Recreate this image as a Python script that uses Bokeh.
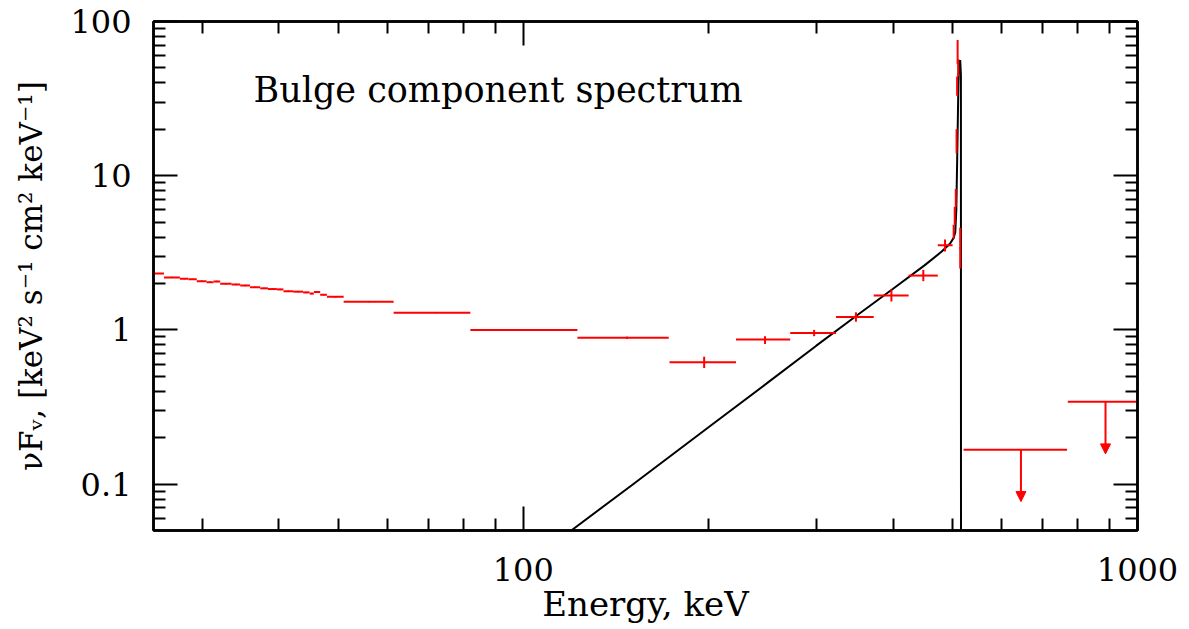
from bokeh.plotting import figure
from bokeh.models import (Range1d, LogAxis, FixedTicker, CustomJSTickFormatter,
                          ColumnDataSource, Arrow, NormalHead, Label)
from bokeh.embed import file_html
from bokeh.resources import INLINE

# ---------------- data ----------------
# fine low-energy bins (keV) and nuFnu values
fine_lo = [24.0, 26.0, 27.6, 28.5, 29.4, 30.5, 31.3, 32.1, 33.5, 34.6, 35.9,
           37.3, 38.4, 39.7, 40.7, 42.2, 43.8, 44.9, 45.6, 46.7, 47.9]
fine_hi = [26.0, 27.6, 28.5, 29.4, 30.5, 31.3, 32.1, 33.5, 34.6, 35.9, 37.3,
           38.4, 39.7, 40.7, 42.2, 43.8, 44.9, 45.6, 46.7, 47.9, 51.0]
fine_y = [2.32, 2.19, 2.15, 2.13, 2.07, 2.04, 2.06, 1.99, 1.97, 1.94, 1.89,
          1.86, 1.84, 1.83, 1.78, 1.77, 1.75, 1.72, 1.76, 1.69, 1.64]
fine_ylo = [2.30, 2.17, 2.13, 2.11, 2.05, 2.02, 2.04, 1.97, 1.95, 1.92, 1.87,
            1.84, 1.82, 1.81, 1.76, 1.75, 1.73, 1.70, 1.74, 1.67, 1.62]
fine_yhi = [2.34, 2.21, 2.17, 2.15, 2.09, 2.06, 2.08, 2.01, 1.99, 1.96, 1.91,
            1.88, 1.86, 1.85, 1.80, 1.79, 1.77, 1.74, 1.78, 1.71, 1.66]

# broad bins
broad_lo = [51.0, 61.5, 82.0, 122.5, 173.0, 222.0, 272.0, 323.0, 372.0, 424.0, 473.0]
broad_hi = [61.5, 82.0, 122.5, 172.5, 222.0, 272.0, 323.0, 372.0, 424.0, 473.0, 500.0]
broad_c = [56.0, 72.0, 100.0, 147.5, 197.0, 247.5, 297.5, 348.0, 397.5, 448.0, 486.0]
broad_y = [1.52, 1.29, 1.00, 0.89, 0.616, 0.865, 0.956, 1.21, 1.67, 2.25, 3.54]
broad_ylo = [1.51, 1.28, 0.99, 0.875, 0.566, 0.81, 0.91, 1.13, 1.53, 2.07, 3.22]
broad_yhi = [1.53, 1.30, 1.01, 0.905, 0.67, 0.91, 1.00, 1.30, 1.83, 2.45, 3.85]

# narrow bins around the 511 keV line
line_lo = [501.0, 503.0, 505.0, 507.0, 508.0, 509.0, 510.0, 513.0]
line_hi = [503.0, 505.0, 507.0, 508.0, 509.0, 510.0, 511.0, 516.0]
line_y = [4.3, 5.5, 7.2, 17.0, 38.0, 64.0, 50.0, 3.4]
line_ylo = [3.9, 4.8, 6.3, 14.0, 33.0, 53.0, 44.0, 2.5]
line_yhi = [4.8, 6.3, 8.2, 20.0, 44.0, 76.0, 57.0, 4.6]

# upper limits
ul_lo = [521.0, 770.0]
ul_hi = [768.0, 1050.0]
ul_x = [646.0, 887.0]
ul_y = [0.167, 0.342]
ul_tip = [0.077, 0.157]

# model curve
model_e = [110.0, 119.7, 150.0, 200.0, 250.0, 300.0, 350.0, 400.0, 450.0, 480.0,
           495.0, 502.0, 505.0, 507.0, 509.0, 511.0, 512.5, 514.5, 515.8, 516.0]
model_y = [0.039, 0.05, 0.098, 0.233, 0.455, 0.79, 1.25, 1.85, 2.62, 3.22,
           3.62, 3.95, 4.3, 6.0, 15.0, 40.0, 55.0, 56.0, 45.0, 0.03]

x_major = [100, 1000]
x_minor = [30, 40, 50, 60, 70, 80, 90, 200, 300, 400, 500, 600, 700, 800, 900]
y_major = [0.1, 1, 10, 100]
y_minor = [0.06, 0.07, 0.08, 0.09, 0.2, 0.3, 0.4, 0.5, 0.6, 0.7, 0.8, 0.9,
           2, 3, 4, 5, 6, 7, 8, 9, 20, 30, 40, 50, 60, 70, 80, 90]

title_text = "Bulge component spectrum"
x_label = "Energy, keV"
y_label = "\u03bdF\u1d65, [keV\u00b2 s\u207b\u00b9 cm\u00b2 keV\u207b\u00b9]"

FONT = "DejaVu Serif"
RED = "#ff0000"

# ---------------- figure ----------------
p = figure(x_axis_type="log", y_axis_type="log",
           x_range=Range1d(25, 1000), y_range=Range1d(0.05, 100),
           frame_width=984, frame_height=509,
           min_border_left=153, min_border_top=21, min_border_right=46, min_border_bottom=90,
           output_backend="svg", toolbar_location=None)
p.grid.visible = False
p.outline_line_color = "black"
p.outline_line_width = 2.5
p.background_fill_color = "white"
p.border_fill_color = "white"

fmt = CustomJSTickFormatter(code="return String(tick);")
empty = CustomJSTickFormatter(code="return '';")


def style_axis(ax, ticks, minor, labels=True):
    ax.ticker = FixedTicker(ticks=ticks, minor_ticks=minor)
    ax.axis_line_color = "black"
    ax.axis_line_width = 2.5
    ax.major_tick_line_color = "black"
    ax.major_tick_line_width = 2
    ax.minor_tick_line_color = "black"
    ax.minor_tick_line_width = 2
    ax.major_tick_in = 24
    ax.major_tick_out = 0
    ax.minor_tick_in = 12
    ax.minor_tick_out = 0
    if labels:
        ax.formatter = fmt
        ax.major_label_text_font = FONT
        ax.major_label_text_font_size = "32px"
        ax.major_label_text_color = "black"
        ax.axis_label_text_font = FONT
        ax.axis_label_text_font_size = "34px"
        ax.axis_label_text_font_style = "normal"
        ax.axis_label_text_color = "black"
    else:
        ax.formatter = empty
        ax.major_label_text_font_size = "0px"
        ax.major_label_standoff = 0


style_axis(p.xaxis[0], x_major, x_minor)
p.xaxis[0].axis_label = x_label
p.xaxis[0].major_label_standoff = 27
p.xaxis[0].axis_label_standoff = 0

style_axis(p.yaxis[0], y_major, y_minor)
p.yaxis[0].axis_label = y_label
p.yaxis[0].major_label_standoff = 22
p.yaxis[0].axis_label_standoff = 18
p.yaxis[0].axis_label_text_font_size = "31px"

top = LogAxis()
style_axis(top, x_major, x_minor, labels=False)
p.add_layout(top, "above")
right = LogAxis()
style_axis(right, y_major, y_minor, labels=False)
p.add_layout(right, "right")

# model
p.line(model_e, model_y, line_color="black", line_width=2)

# data: horizontal bars (bin widths) and vertical error bars
all_lo = fine_lo + broad_lo + line_lo
all_hi = fine_hi + broad_hi + line_hi
all_y = fine_y + broad_y + line_y
p.segment(x0=all_lo, x1=all_hi, y0=all_y, y1=all_y, line_color=RED, line_width=2)

fine_c = [(a + b) / 2 for a, b in zip(fine_lo, fine_hi)]
line_c = [(a + b) / 2 for a, b in zip(line_lo, line_hi)]
all_c = fine_c + broad_c + line_c
all_ylo = fine_ylo + broad_ylo + line_ylo
all_yhi = fine_yhi + broad_yhi + line_yhi
p.segment(x0=all_c, x1=all_c, y0=all_ylo, y1=all_yhi, line_color=RED, line_width=2)

# upper limits
p.segment(x0=ul_lo, x1=ul_hi, y0=ul_y, y1=ul_y, line_color=RED, line_width=2)
ul_src = ColumnDataSource(dict(x=ul_x, y=ul_y, tip=ul_tip))
p.add_layout(Arrow(end=NormalHead(size=10, fill_color=RED, line_color=RED, line_width=1),
                   x_start="x", y_start="y", x_end="x", y_end="tip",
                   line_color=RED, line_width=2, source=ul_src))

p.add_layout(Label(x=100, y=441, x_units="screen", y_units="screen", text=title_text,
                   text_font=FONT, text_font_size="35px", text_color="black",
                   text_baseline="alphabetic"))

open("out.html", "w").write(file_html(p, INLINE))
